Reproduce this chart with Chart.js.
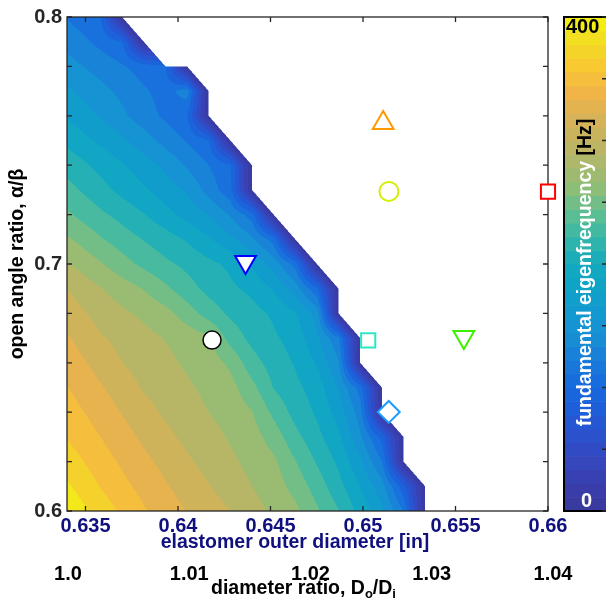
<!DOCTYPE html>
<html>
<head>
<meta charset="utf-8">
<script src="https://cdn.jsdelivr.net/npm/chart.js@4.4.1/dist/chart.umd.min.js"></script>
<style>
  html, body { margin: 0; padding: 0; background: #ffffff; }
  #wrap { width: 606px; height: 607px; position: relative; }
</style>
</head>
<body>
<div id="wrap"><canvas id="c" width="606" height="607"></canvas></div>
<script>
// ---- data ----------------------------------------------------------------
// elastomer outer diameter grid [in]
const outerDiameter = [0.63347, 0.63464, 0.63581, 0.63698, 0.63815, 0.63932, 0.64049, 0.64166,
  0.64283, 0.64400, 0.64517, 0.64634, 0.64751, 0.64868, 0.64985, 0.65102, 0.65219, 0.65336,
  0.65453, 0.65570, 0.65687, 0.65804, 0.65921, 0.66038];

// open angle ratio grid
const angleRatio = [0.60, 0.61, 0.62, 0.63, 0.64, 0.65, 0.66, 0.67, 0.68, 0.69, 0.70,
  0.71, 0.72, 0.73, 0.74, 0.75, 0.76, 0.77, 0.78, 0.79, 0.80];

// fundamental eigenfrequency [Hz], one row per angle ratio; null = no stable design
const eigenfrequency = [
  [402, 387, 372, 356, 342, 331, 319, 309, 300, 288, 276, 265, 243, 221, 193, 165, 120, 0, null, null, null, null, null, null],
  [390, 375, 359, 345, 334, 322, 311, 301, 291, 280, 270, 253, 231, 207, 180, 148, 88, 0, null, null, null, null, null, null],
  [377, 363, 349, 337, 325, 314, 303, 293, 284, 274, 264, 241, 218, 196, 164, 120, 0, null, null, null, null, null, null, null],
  [364, 352, 340, 328, 316, 305, 295, 287, 278, 269, 251, 226, 206, 184, 143, 93, 0, null, null, null, null, null, null, null],
  [355, 343, 331, 319, 307, 297, 289, 280, 272, 261, 235, 213, 197, 172, 130, 0, null, null, null, null, null, null, null, null],
  [346, 334, 322, 310, 298, 291, 283, 275, 267, 246, 219, 205, 191, 158, 111, 0, null, null, null, null, null, null, null, null],
  [338, 325, 312, 300, 292, 285, 277, 270, 256, 228, 211, 198, 178, 142, 0, null, null, null, null, null, null, null, null, null],
  [329, 315, 302, 294, 286, 279, 272, 264, 232, 214, 203, 192, 164, 124, 0, null, null, null, null, null, null, null, null, null],
  [318, 304, 293, 284, 276, 267, 250, 231, 216, 207, 197, 182, 152, 0, null, null, null, null, null, null, null, null, null, null],
  [305, 293, 281, 270, 259, 244, 228, 214, 204, 195, 178, 151, 103, 0, null, null, null, null, null, null, null, null, null, null],
  [288, 275, 262, 248, 235, 224, 215, 205, 196, 177, 152, 112, 0, null, null, null, null, null, null, null, null, null, null, null],
  [269, 256, 242, 230, 219, 209, 198, 183, 165, 144, 111, 0, null, null, null, null, null, null, null, null, null, null, null, null],
  [250, 236, 224, 213, 201, 187, 173, 159, 138, 110, 0, null, null, null, null, null, null, null, null, null, null, null, null, null],
  [233, 220, 207, 194, 183, 170, 157, 132, 106, 0, null, null, null, null, null, null, null, null, null, null, null, null, null, null],
  [217, 206, 194, 182, 169, 155, 137, 120, 102, 0, null, null, null, null, null, null, null, null, null, null, null, null, null, null],
  [201, 188, 176, 164, 149, 133, 118, 102, 0, null, null, null, null, null, null, null, null, null, null, null, null, null, null, null],
  [185, 171, 158, 144, 129, 116, 101, 0, null, null, null, null, null, null, null, null, null, null, null, null, null, null, null, null],
  [168, 157, 146, 135, 123, 112, 130, 0, null, null, null, null, null, null, null, null, null, null, null, null, null, null, null, null],
  [153, 142, 132, 122, 111, 101, 0, null, null, null, null, null, null, null, null, null, null, null, null, null, null, null, null, null],
  [138, 127, 114, 101, 0, null, null, null, null, null, null, null, null, null, null, null, null, null, null, null, null, null, null, null],
  [124, 112, 100, 0, null, null, null, null, null, null, null, null, null, null, null, null, null, null, null, null, null, null, null, null]
];

// contour levels and colour scale
const levelStep = 20;
const freqMax = 400;
const colorbarBands = 36;
const colorbarTicks = [0, 50, 100, 150, 200, 250, 300, 350, 400];

// axis ticks
const xTicks = [0.635, 0.64, 0.645, 0.65, 0.655, 0.66];
const ratioTicks = [1.0, 1.01, 1.02, 1.03, 1.04];
const yTicks = [0.6, 0.62, 0.64, 0.66, 0.68, 0.7, 0.72, 0.74, 0.76, 0.78, 0.8];
const yLabelled = [0.6, 0.7, 0.8];

// tested designs
const designX = [0.64184, 0.64365, 0.65028, 0.65139, 0.65109, 0.65140, 0.66000, 0.65545];
const designY = [0.6692, 0.7008, 0.6691, 0.6401, 0.7571, 0.7294, 0.7293, 0.6704];

// ---- styling ---------------------------------------------------------------
const FONT = "'Liberation Sans', Arial, Helvetica, sans-serif";
const AXIS_GREY = '#262626';
const NAVY = '#10107f';

const cmapKeys = [
  [0.00, '#383a9c'], [0.05, '#3a3eac'], [0.10, '#3646bc'], [0.15, '#2c50cc'],
  [0.20, '#205cd8'], [0.25, '#1668de'], [0.30, '#1a7ada'], [0.35, '#188ed4'],
  [0.40, '#1298d0'], [0.45, '#0ea2c8'], [0.50, '#14aabe'], [0.55, '#34b6aa'],
  [0.60, '#5cbe94'], [0.65, '#8abe78'], [0.70, '#aab86c'], [0.75, '#c4b460'],
  [0.80, '#dab256'], [0.85, '#f2b446'], [0.90, '#f8c832'], [0.95, '#f2dc24'],
  [1.00, '#f4f40e']
].map(([t, h]) => [t, [parseInt(h.slice(1, 3), 16), parseInt(h.slice(3, 5), 16), parseInt(h.slice(5, 7), 16)]]);

function cmap(t) {
  t = Math.max(0, Math.min(1, t));
  for (let k = 1; k < cmapKeys.length; k++) {
    if (t <= cmapKeys[k][0]) {
      const [t0, c0] = cmapKeys[k - 1], [t1, c1] = cmapKeys[k];
      const f = (t - t0) / (t1 - t0);
      return [0, 1, 2].map(i => Math.round(c0[i] + (c1[i] - c0[i]) * f));
    }
  }
  return cmapKeys[cmapKeys.length - 1][1];
}
const rgb = c => `rgb(${c[0]},${c[1]},${c[2]})`;

// value inside a grid cell, corners a=(0,0) b=(1,0) c=(1,1) d=(0,1):
// bilinear when all corners are known, linear on the known triangle when one is missing
function cellValue(a, b, c, d, u, w) {
  const na = a === null, nb = b === null, nc = c === null, nd = d === null;
  const missing = na + nb + nc + nd;
  if (missing === 0) return a * (1 - u) * (1 - w) + b * u * (1 - w) + c * u * w + d * (1 - u) * w;
  if (missing > 1) return null;
  if (nc) return u + w <= 1 ? a + (b - a) * u + (d - a) * w : null;
  if (na) return u + w >= 1 ? c + (d - c) * (1 - u) + (b - c) * (1 - w) : null;
  if (nb) return w >= u ? a + (c - d) * u + (d - a) * w : null;
  return u >= w ? a + (b - a) * u + (c - b) * w : null;
}

function locate(arr, v) {
  let i = 0;
  while (i < arr.length - 2 && v > arr[i + 1]) i++;
  return [i, (v - arr[i]) / (arr[i + 1] - arr[i])];
}

const fieldPlugin = {
  id: 'fieldPlot',
  beforeDatasetsDraw(chart) {
    const { ctx, chartArea: area, scales: { x, y } } = chart;
    const ss = 2;
    const W = Math.round((area.right - area.left) * ss);
    const H = Math.round((area.bottom - area.top) * ss);
    const off = document.createElement('canvas');
    off.width = W; off.height = H;
    const octx = off.getContext('2d');
    const img = octx.createImageData(W, H);
    const colI = new Int32Array(W), colU = new Float64Array(W);
    for (let sx = 0; sx < W; sx++) {
      const [i, u] = locate(outerDiameter, x.getValueForPixel(area.left + (sx + 0.5) / ss));
      colI[sx] = i; colU[sx] = u;
    }
    const rowJ = new Int32Array(H), rowW = new Float64Array(H);
    for (let sy = 0; sy < H; sy++) {
      const [j, w] = locate(angleRatio, y.getValueForPixel(area.top + (sy + 0.5) / ss));
      rowJ[sy] = j; rowW[sy] = w;
    }
    const nBands = Math.round(freqMax / levelStep);
    const bandColors = [];
    for (let k = 0; k < nBands; k++) bandColors.push(cmap((k + 0.5) / nBands));
    const data = img.data;
    for (let sy = 0; sy < H; sy++) {
      const j = rowJ[sy], w = rowW[sy];
      const r0 = eigenfrequency[j], r1 = eigenfrequency[j + 1];
      for (let sx = 0; sx < W; sx++) {
        const i = colI[sx];
        const f = cellValue(r0[i], r0[i + 1], r1[i + 1], r1[i], colU[sx], w);
        if (f === null) continue;
        const k = Math.max(0, Math.min(nBands - 1, Math.floor(f / levelStep)));
        const col = bandColors[k];
        const p = (sy * W + sx) * 4;
        data[p] = col[0]; data[p + 1] = col[1]; data[p + 2] = col[2]; data[p + 3] = 255;
      }
    }
    octx.putImageData(img, 0, 0);
    ctx.save();
    ctx.imageSmoothingEnabled = true;
    ctx.imageSmoothingQuality = 'high';
    ctx.drawImage(off, area.left, area.top, area.right - area.left, area.bottom - area.top);

    // axes box with inward ticks
    ctx.strokeStyle = AXIS_GREY;
    ctx.lineWidth = 1.3;
    ctx.strokeRect(area.left, area.top, area.right - area.left, area.bottom - area.top);
    const tl = 5;
    ctx.beginPath();
    xTicks.forEach(v => {
      const p = x.getPixelForValue(v);
      ctx.moveTo(p, area.bottom); ctx.lineTo(p, area.bottom - tl);
      ctx.moveTo(p, area.top); ctx.lineTo(p, area.top + tl);
    });
    yTicks.forEach(v => {
      const p = y.getPixelForValue(v);
      ctx.moveTo(area.left, p); ctx.lineTo(area.left + tl, p);
      ctx.moveTo(area.right, p); ctx.lineTo(area.right - tl, p);
    });
    ctx.stroke();
    ctx.restore();
  },
  afterDraw(chart) {
    const { ctx, chartArea: area } = chart;
    ctx.save();
    // colour bar
    const cbL = 564, cbR = 612, top = area.top, bot = area.bottom;
    const pix = v => bot - (v / freqMax) * (bot - top);
    for (let m = 0; m < colorbarBands; m++) {
      const v0 = m * freqMax / colorbarBands, v1 = (m + 1) * freqMax / colorbarBands;
      ctx.fillStyle = rgb(cmap((m + 0.5) / colorbarBands));
      ctx.fillRect(cbL, pix(v1), cbR - cbL, pix(v0) - pix(v1) + 0.6);
    }
    ctx.strokeStyle = '#000000';
    ctx.lineWidth = 2;
    ctx.strokeRect(cbL, top, cbR - cbL, bot - top);
    ctx.strokeStyle = AXIS_GREY;
    ctx.lineWidth = 1.3;
    ctx.beginPath();
    colorbarTicks.forEach(v => { ctx.moveTo(602, pix(v)); ctx.lineTo(612, pix(v)); });
    ctx.stroke();

    ctx.font = `bold 20px ${FONT}`;
    ctx.textBaseline = 'alphabetic';
    ctx.fillStyle = '#000000';
    ctx.textAlign = 'left';
    ctx.fillText('400', 566, 33);
    ctx.fillStyle = '#ffffff';
    ctx.textAlign = 'center';
    ctx.fillText('0', 586.5, 507);

    // colour bar title
    ctx.save();
    ctx.translate(590.5, 272.5);
    ctx.rotate(-Math.PI / 2);
    ctx.font = `bold 19.5px ${FONT}`;
    ctx.textAlign = 'left';
    const t1 = 'fundamental eigenfrequency ', t2 = '[Hz]';
    const w1 = ctx.measureText(t1).width, w2 = ctx.measureText(t2).width;
    const x0 = -(w1 + w2) / 2;
    ctx.fillStyle = '#ffffff';
    ctx.fillText(t1, x0, 0);
    ctx.fillStyle = '#000000';
    ctx.fillText(t2, x0 + w1, 0);
    ctx.restore();

    // outer diameter axis title
    ctx.font = `bold 19.5px ${FONT}`;
    ctx.fillStyle = NAVY;
    ctx.textAlign = 'center';
    ctx.fillText('elastomer outer diameter [in]', 295, 548);

    // diameter ratio axis title with subscripts
    const parts = [
      ['diameter ratio, D', 19.5, 0], ['o', 13, 4], ['/D', 19.5, 0], ['i', 13, 4]
    ];
    let total = 0;
    parts.forEach(p => { ctx.font = `bold ${p[1]}px ${FONT}`; p.push(ctx.measureText(p[0]).width); total += p[3]; });
    let cx = 303.5 - total / 2;
    ctx.fillStyle = '#000000';
    ctx.textAlign = 'left';
    parts.forEach(p => {
      ctx.font = `bold ${p[1]}px ${FONT}`;
      ctx.fillText(p[0], cx, 593.5 + p[2]);
      cx += p[3];
    });
    ctx.restore();
  }
};

const ratioMin = 0.999918, ratioMax = 1.039588;

new Chart(document.getElementById('c'), {
  type: 'scatter',
  data: {
    datasets: [{
      data: designX.map((v, i) => ({ x: v, y: designY[i] })),
      pointStyle: ['circle', 'triangle', 'rect', 'rectRot', 'triangle', 'circle', 'rect', 'triangle'],
      pointRotation: [0, 180, 0, 0, 0, 0, 0, 180],
      pointRadius: [9, 12, 10, 11, 12, 9.5, 10, 12],
      pointHoverRadius: [9, 12, 10, 11, 12, 9.5, 10, 12],
      pointBorderWidth: [1.5, 2, 2, 2, 2, 2, 2, 2],
      pointBorderColor: ['#000000', '#0000ff', '#2ee6c4', '#1a9cff', '#ff9900', '#d2f000', '#ff0000', '#3cf000'],
      pointBackgroundColor: ['#ffffff', '#ffffff', '#ffffff', '#ffffff', 'rgba(255,255,255,0)', 'rgba(255,255,255,0)', '#ffffff', 'rgba(255,255,255,0)'],
      showLine: false,
      clip: false,
      xAxisID: 'x',
      yAxisID: 'y'
    }]
  },
  options: {
    responsive: false,
    animation: false,
    events: [],
    layout: { padding: { left: 0, right: 58, top: 15, bottom: 5 } },
    plugins: { legend: { display: false }, tooltip: { enabled: false } },
    scales: {
      x: {
        type: 'linear', position: 'bottom', weight: 0,
        min: 0.634, max: 0.66,
        afterBuildTicks: s => { s.ticks = xTicks.map(v => ({ value: v })); },
        afterFit: s => { s.height = 44; },
        grid: { display: false, drawTicks: false },
        border: { display: false },
        ticks: {
          autoSkip: false, maxRotation: 0, padding: 3, color: NAVY,
          font: { family: FONT, size: 20, weight: 'bold' },
          callback: v => String(v)
        },
        title: { display: false }
      },
      x2: {
        type: 'linear', position: 'bottom', weight: 1,
        min: ratioMin, max: ratioMax,
        afterBuildTicks: s => { s.ticks = ratioTicks.map(v => ({ value: v })); },
        afterFit: s => { s.height = 47; },
        grid: { display: false, drawTicks: false },
        border: { display: false },
        ticks: {
          autoSkip: false, maxRotation: 0, padding: 7, color: '#000000',
          font: { family: FONT, size: 20, weight: 'bold' },
          callback: v => (v === 1 ? '1.0' : String(v))
        },
        title: { display: false }
      },
      y: {
        type: 'linear', position: 'left',
        min: 0.6, max: 0.8,
        afterBuildTicks: s => { s.ticks = yTicks.map(v => ({ value: v })); },
        afterFit: s => { s.width = 67; },
        grid: { display: false, drawTicks: false },
        border: { display: false },
        ticks: {
          autoSkip: false, padding: 5, color: AXIS_GREY,
          font: { family: FONT, size: 20, weight: 'bold' },
          callback: v => (yLabelled.includes(v) ? v.toFixed(1) : '')
        },
        title: {
          display: true, text: 'open angle ratio, α/β', color: '#000000',
          font: { family: FONT, size: 19.5, weight: 'bold' },
          padding: { top: 6, bottom: 0 }
        }
      }
    }
  },
  plugins: [fieldPlugin]
});
</script>
</body>
</html>
